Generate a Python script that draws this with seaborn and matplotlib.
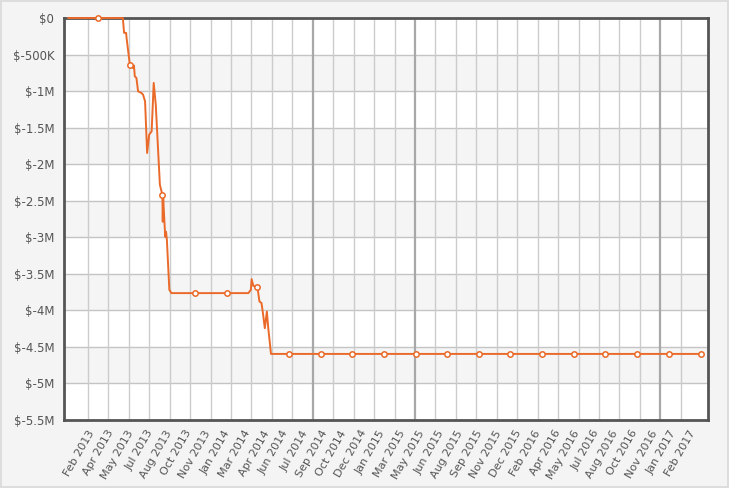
import matplotlib
matplotlib.use("Agg")
import matplotlib.pyplot as plt
import matplotlib.dates as mdates
from matplotlib.ticker import FuncFormatter
import numpy as np
import pandas as pd
import seaborn as sns

# ---- data ----
dates = [
    "2012-12-26", "2013-03-09", "2013-05-08", "2013-05-11", "2013-05-16", "2013-05-17",
    "2013-05-25", "2013-06-01", "2013-06-04", "2013-06-06", "2013-06-10", "2013-06-14",
    "2013-06-22", "2013-06-26", "2013-07-01", "2013-07-06", "2013-07-11", "2013-07-17",
    "2013-07-22", "2013-07-27", "2013-08-06", "2013-08-12", "2013-08-13", "2013-08-14",
    "2013-08-19", "2013-08-21", "2013-08-23", "2013-08-29", "2013-09-03", "2013-10-30",
    "2014-01-15", "2014-03-09", "2014-03-15", "2014-03-17", "2014-03-21", "2014-03-31",
    "2014-04-05", "2014-04-10", "2014-04-14", "2014-04-18", "2014-04-23", "2014-04-26",
    "2014-05-03", "2014-06-16", "2014-09-02", "2014-11-16", "2015-02-02", "2015-04-20",
    "2015-07-05", "2015-09-20", "2015-12-05", "2016-02-20", "2016-05-08", "2016-07-23",
    "2016-10-08", "2016-12-25", "2017-03-13",
]
values = [
    0, 0, 0, -203000, -203000, -271000,
    -637000, -682000, -650000, -797000, -820000, -1003000,
    -1025000, -1048000, -1140000, -1847000, -1596000, -1551000,
    -888000, -1185000, -2281000, -2418000, -2788000, -2459000,
    -2993000, -2925000, -3034000, -3719000, -3764000, -3764000,
    -3764000, -3764000, -3719000, -3573000, -3664000, -3682000,
    -3879000, -3900000, -4062000, -4244000, -4016000, -4222000,
    -4596000, -4596000, -4596000, -4596000, -4596000, -4596000,
    -4596000, -4596000, -4596000, -4596000, -4596000, -4596000,
    -4596000, -4596000, -4596000,
]
marker_dates = [
    "2013-03-09", "2013-05-25", "2013-08-12", "2013-10-30", "2014-01-15", "2014-03-31",
    "2014-06-16", "2014-09-02", "2014-11-16", "2015-02-02", "2015-04-20", "2015-07-05",
    "2015-09-20", "2015-12-05", "2016-02-20", "2016-05-08", "2016-07-23", "2016-10-08",
    "2016-12-25", "2017-03-13",
]
x_labels = [
    "Feb 2013", "Apr 2013", "May 2013", "Jul 2013", "Aug 2013", "Oct 2013", "Nov 2013",
    "Jan 2014", "Mar 2014", "Apr 2014", "Jun 2014", "Jul 2014", "Sep 2014", "Oct 2014",
    "Dec 2014", "Jan 2015", "Mar 2015", "May 2015", "Jun 2015", "Aug 2015", "Sep 2015",
    "Nov 2015", "Dec 2015", "Feb 2016", "Apr 2016", "May 2016", "Jul 2016", "Aug 2016",
    "Oct 2016", "Nov 2016", "Jan 2017", "Feb 2017",
]
y_ticks = [0, -500000, -1000000, -1500000, -2000000, -2500000, -3000000,
           -3500000, -4000000, -4500000, -5000000, -5500000]

df = pd.DataFrame({"date": pd.to_datetime(dates), "value": values})
mk = df[df["date"].isin(pd.to_datetime(marker_dates))]

# ---- styling ----
sns.set_style("white")
plt.rcParams["font.family"] = ["DejaVu Sans"]

line_color = "#ea6a2a"
text_color = "#555555"

fig = plt.figure(figsize=(7.29, 4.88), dpi=100)
fig.patch.set_facecolor("#f4f4f4")
fig.patch.set_edgecolor("#dddddd")
fig.patch.set_linewidth(1.5)
ax = fig.add_axes([64 / 729, 1 - 420 / 488, 644 / 729, 402 / 488])
ax.set_facecolor("white")

x0 = mdates.date2num(pd.Timestamp("2012-12-16"))
x1 = mdates.date2num(pd.Timestamp("2017-03-30"))

# alternating bands
for i, yt in enumerate(y_ticks[:-1]):
    if i % 2 == 1:
        ax.axhspan(y_ticks[i + 1], yt, color="#f5f5f5", zorder=0, lw=0)

sns.lineplot(data=df, x="date", y="value", ax=ax, color=line_color, lw=1.4,
             zorder=4, clip_on=False)
sns.scatterplot(data=mk, x="date", y="value", ax=ax, marker="o", s=15,
                facecolor="white", edgecolor=line_color, linewidth=1.1,
                zorder=5, clip_on=False)

ax.set_xlim(x0, x1)
ax.set_ylim(-5500000, 0)

# y axis
ax.set_yticks(y_ticks)

def fmt(v, pos):
    v = -v
    if v == 0:
        return "$0"
    if v >= 1e6:
        s = f"{v / 1e6:.1f}".rstrip("0").rstrip(".")
        return f"$-{s}M"
    return f"$-{v / 1e3:.0f}K"

ax.yaxis.set_major_formatter(FuncFormatter(fmt))
ax.tick_params(axis="y", length=0, pad=7, labelsize=8.5, labelcolor=text_color)
ax.grid(axis="y", color="#c4c4c4", lw=1, zorder=1)

# x axis: labels and gridlines at their own spacing
lab_pos = np.linspace(mdates.date2num(pd.Timestamp("2013-02-12")),
                      mdates.date2num(pd.Timestamp("2017-02-12")), len(x_labels))
ax.set_xticks(lab_pos)
ax.set_xticklabels(x_labels, rotation=60, ha="right", rotation_mode="anchor")
ax.tick_params(axis="x", length=0, pad=6, labelsize=8, labelcolor=text_color)
grid_pos = np.linspace(mdates.date2num(pd.Timestamp("2013-02-12")),
                       mdates.date2num(pd.Timestamp("2017-01-23")), 30)
for i, g in enumerate(grid_pos):
    dark = i in (11, 16, 28)
    ax.axvline(g, color="#a8a8a8" if dark else "#cccccc", lw=1.6 if dark else 1, zorder=1)

ax.set_xlabel("")
ax.set_ylabel("")
for side in ["left", "right", "top", "bottom"]:
    ax.spines[side].set_visible(True)
    ax.spines[side].set_color("#555555")
    ax.spines[side].set_linewidth(2)
    ax.spines[side].set_zorder(3)

fig.savefig("out.png", dpi=100, facecolor=fig.get_facecolor(), edgecolor=fig.get_edgecolor())
